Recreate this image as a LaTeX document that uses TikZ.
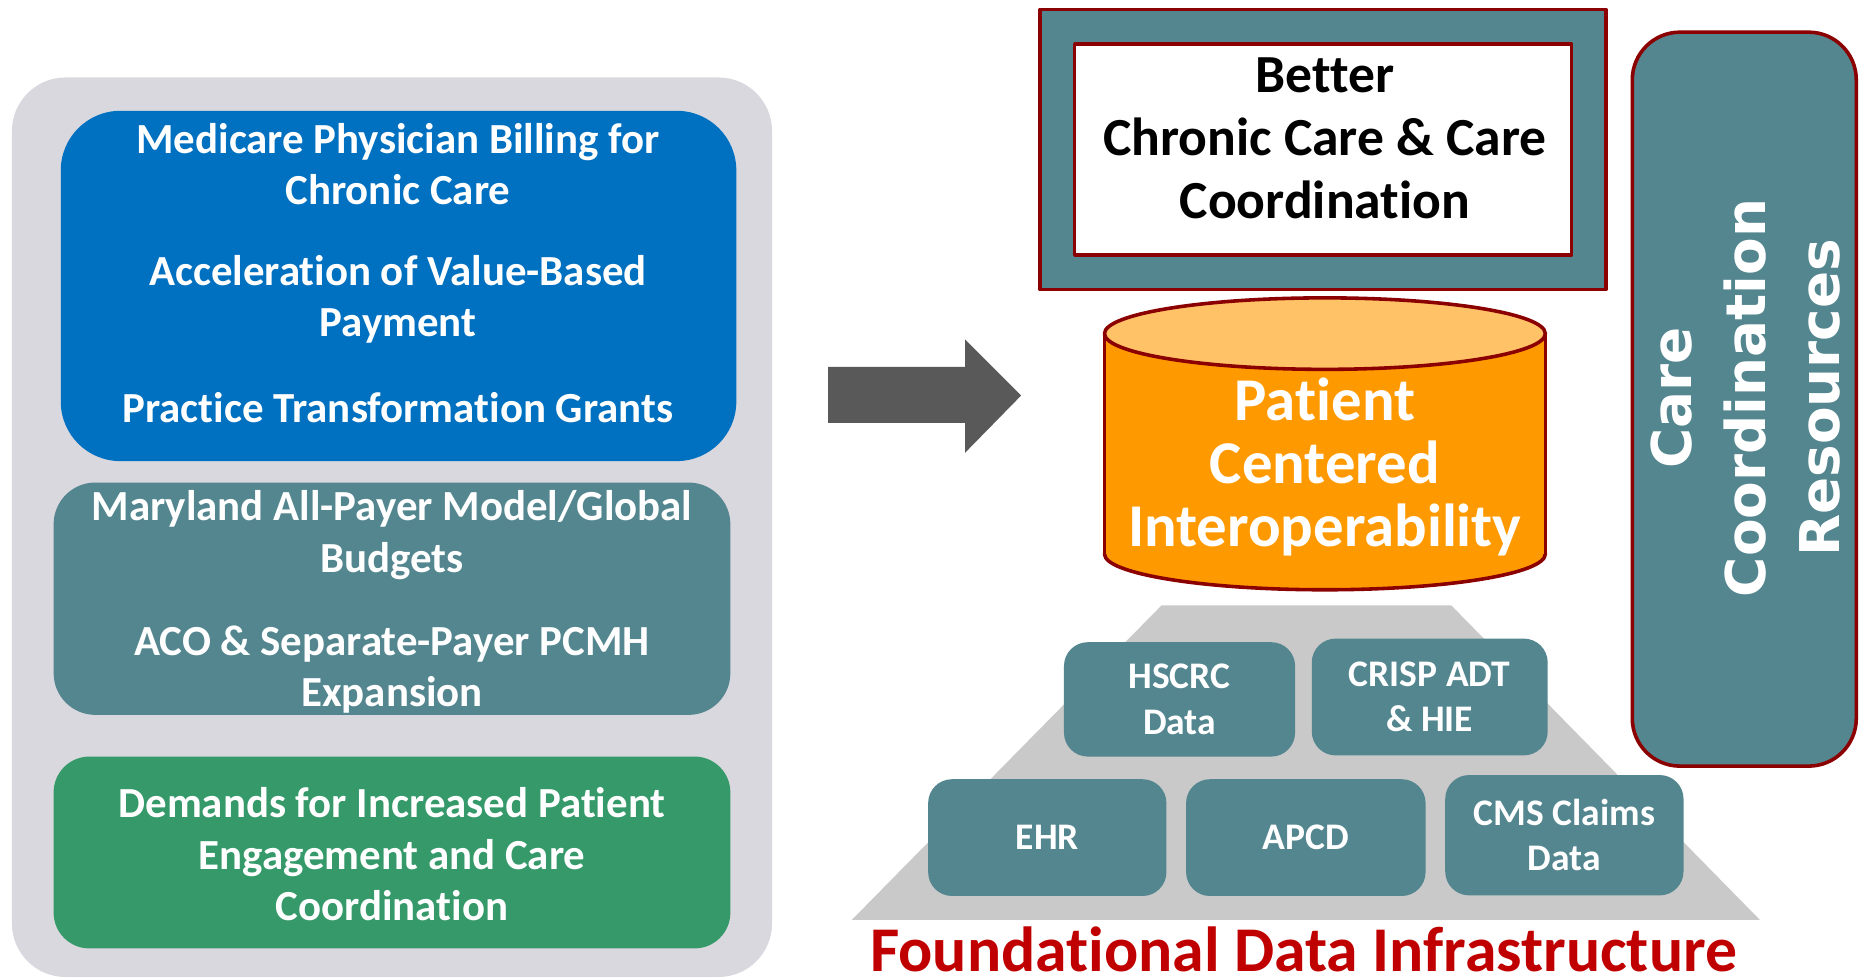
\documentclass[tikz,border=0pt]{standalone}
\usepackage{fontspec}
\setmainfont{Carlito}[Ligatures=NoCommon]
\newfontfamily\vertfont{DejaVu Sans}
\definecolor{tealbox}{HTML}{53868F}
\definecolor{bluebox}{HTML}{0070C0}
\definecolor{greenbox}{HTML}{35996A}
\definecolor{panelgray}{HTML}{D9D8DE}
\definecolor{rimred}{HTML}{8B0000}
\definecolor{titlered}{HTML}{C00000}
\definecolor{arrowgray}{HTML}{595959}
\definecolor{pyrgray}{HTML}{C9C9C9}
\definecolor{cyltop}{HTML}{FFC266}
\definecolor{cylbody}{HTML}{FF9900}

\begin{document}
\begin{tikzpicture}[x=1pt,y=-1pt,line join=round]
	\tikzstyle{wtxt}=[text=white,font=\bfseries\fontsize{36}{43}\selectfont,align=center,inner sep=0pt];
	\tikzstyle{bigtxt}=[align=center,inner sep=0pt,font=\bfseries\fontsize{45}{53}\selectfont];
	\tikzstyle{databox}=[fill=tealbox,rounded corners=20pt,text=white,align=center,font=\bfseries\fontsize{31.5}{38}\selectfont];
	\useasboundingbox (0,0) rectangle (1567,822.5);
	% left panel
	\fill[panelgray,rounded corners=45pt] (10,65) rectangle (648,820);
	\fill[bluebox,rounded corners=50pt] (51,93) rectangle (618,387);
	\fill[tealbox,rounded corners=35pt] (45,405) rectangle (613,600);
	\fill[greenbox,rounded corners=30pt] (45,635) rectangle (613,796);
	\node[wtxt] (billing) at (334,138) {Medicare Physician Billing for\\Chronic Care};
	\node[wtxt] (valuepay) at (334,251) {Acceleration of Value-Based\\Payment};
	\node[wtxt] (grants) at (334,342) {Practice Transformation Grants};
	\node[wtxt] (allpayer) at (329,449) {Maryland All-Payer Model/Global\\Budgets};
	\node[wtxt] (pcmh) at (329,562) {ACO \& Separate-Payer PCMH\\Expansion};
	\node[wtxt] (demands) at (329,717) {Demands for Increased Patient\\Engagement and Care\\Coordination};
	% arrow
	\fill[arrowgray] (695,308) -- (810,308) -- (810,285) -- (857,332) -- (810,380) -- (810,355) -- (695,355) -- cycle;
	% goal box
	\draw[rimred,line width=3pt,fill=tealbox] (873,8) rectangle (1348,243);
	\draw[rimred,line width=3pt,fill=white] (902,37) rectangle (1319,214);
	\node[bigtxt] (better) at (1112,116) {Better\\Chronic Care \& Care\\Coordination};
	% care coordination column
	\draw[rimred,line width=3pt,fill=tealbox,rounded corners=40pt] (1370,27) rectangle (1558,643);
	\node[rotate=90,text=white,align=center,inner sep=0pt,font=\vertfont\bfseries\fontsize{46}{62}\selectfont] (ccr) at (1465,334) {Care\\Coordination\\Resources};
	% pyramid
	\fill[pyrgray] (975,508) -- (1218,508) -- (1477,772) -- (715,772) -- cycle;
	\node[databox,minimum width=194pt,minimum height=96pt] (hscrc) at (990,587) {HSCRC\\Data};
	\node[databox,minimum width=198pt,minimum height=98pt] (crisp) at (1200,585) {CRISP ADT\\\& HIE};
	\node[databox,minimum width=200pt,minimum height=98pt] (ehr) at (879,703) {EHR};
	\node[databox,minimum width=201pt,minimum height=98pt] (apcd) at (1096,703) {APCD};
	\node[databox,minimum width=200pt,minimum height=101pt] (cms) at (1313,701) {CMS Claims\\Data};
	\node[text=titlered,inner sep=0pt,anchor=base,font=\bfseries\fontsize{53.5}{60}\selectfont] (found) at (1094,815) {Foundational Data Infrastructure};
	% cylinder
	\draw[rimred,line width=3pt,fill=cylbody] (1112,465) ellipse (185 and 30);
	\fill[cylbody] (927,280) rectangle (1297,465);
	\draw[rimred,line width=3pt] (927,280) -- (927,465);
	\draw[rimred,line width=3pt] (1297,280) -- (1297,465);
	\draw[rimred,line width=3pt,fill=cyltop] (1112,280) ellipse (185 and 30);
	\node[align=center,inner sep=0pt,text=white,font=\bfseries\fontsize{51}{53}\selectfont] (interop) at (1112,392) {Patient\\Centered\\Interoperability};
\end{tikzpicture}
\end{document}
